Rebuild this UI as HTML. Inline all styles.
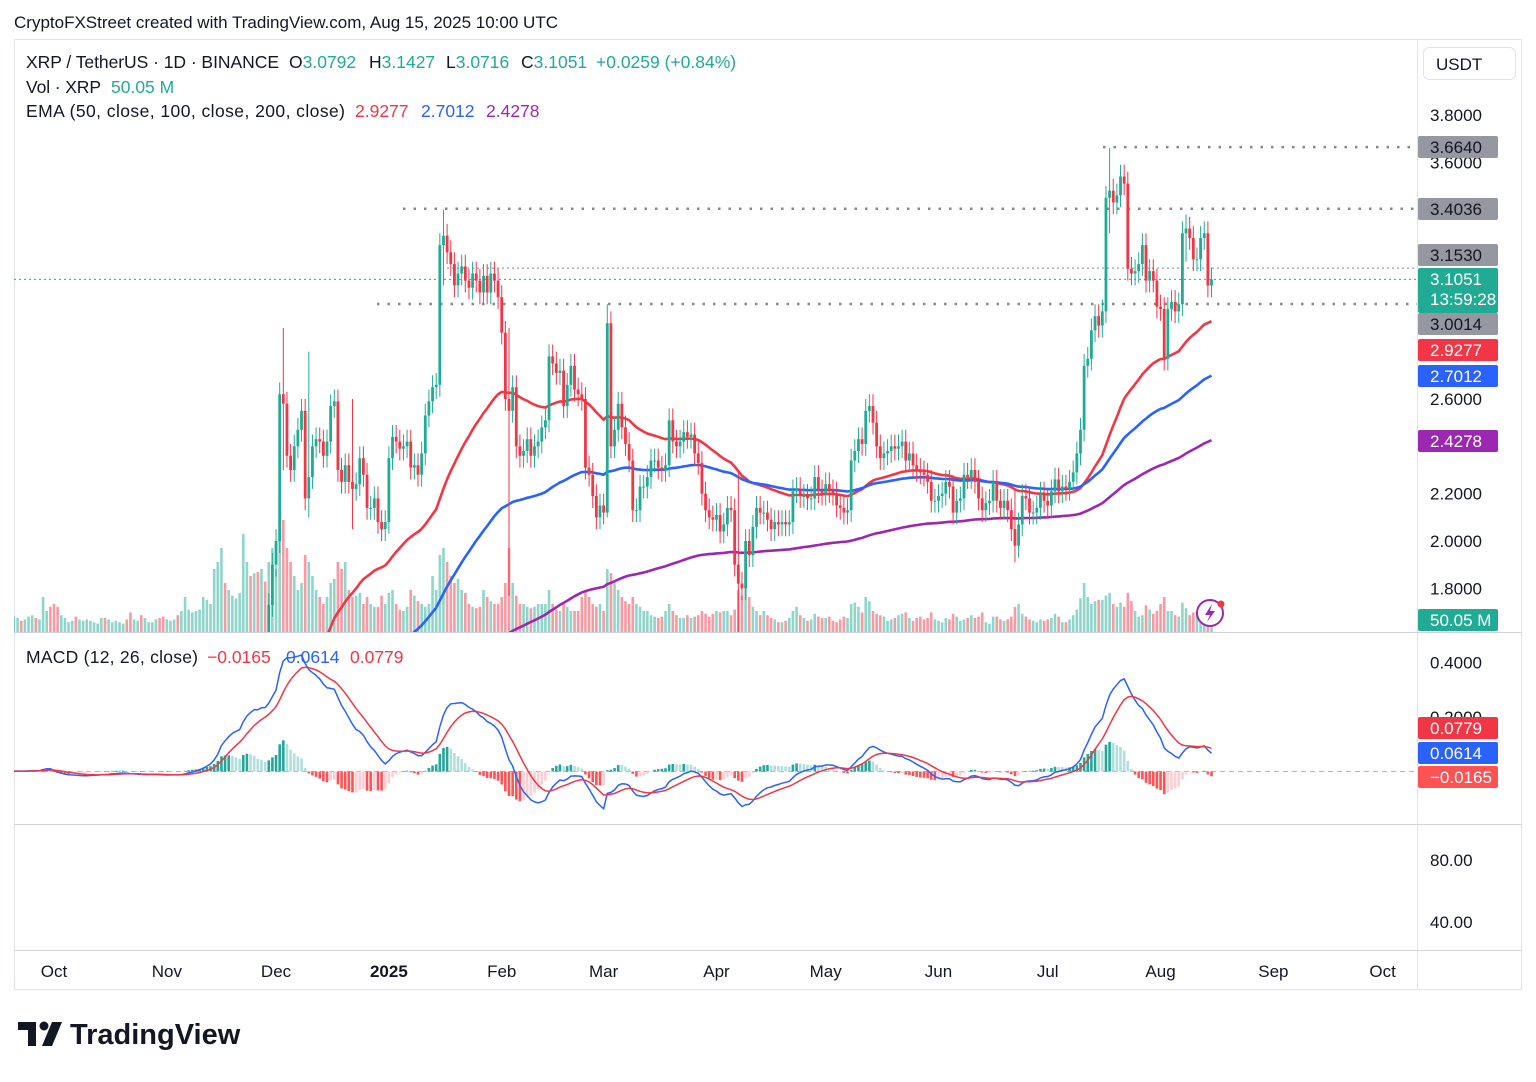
<!DOCTYPE html>
<html><head><meta charset="utf-8">
<style>
html,body{margin:0;padding:0;background:#fff;}
body{width:1536px;height:1077px;overflow:hidden;font-family:"Liberation Sans",sans-serif;}
svg text{font-family:"Liberation Sans",sans-serif;}
</style></head>
<body>
<svg id="chart" width="1536" height="1077" viewBox="0 0 1536 1077" xmlns="http://www.w3.org/2000/svg">
<defs>
<clipPath id="mainClip"><rect x="14" y="40" width="1403" height="592"/></clipPath>
<clipPath id="macdClip"><rect x="14" y="633" width="1403" height="191"/></clipPath>
</defs>
<text x="14" y="28" font-size="17" fill="#131722">CryptoFXStreet created with TradingView.com, Aug 15, 2025 10:00 UTC</text>
<rect x="14.5" y="39.5" width="1507" height="950" fill="none" stroke="#e0e3eb"/>
<line x1="1417.5" y1="40" x2="1417.5" y2="990" stroke="#e0e3eb"/>
<line x1="14" y1="632.5" x2="1522" y2="632.5" stroke="#d1d4dc"/>
<line x1="14" y1="824.5" x2="1522" y2="824.5" stroke="#d1d4dc"/>
<line x1="14" y1="950.5" x2="1522" y2="950.5" stroke="#d1d4dc"/>
<g id="vol" clip-path="url(#mainClip)"></g>
<g id="levels"></g>
<g id="emas" clip-path="url(#mainClip)"></g>
<g id="candles" clip-path="url(#mainClip)"></g>
<g id="macd" clip-path="url(#macdClip)"></g>
<g id="axes"></g>
<g id="legend" font-size="17.5">
<text x="26" y="68" fill="#131722" textLength="253" lengthAdjust="spacing">XRP / TetherUS · 1D · BINANCE</text>
<text x="289" y="68" fill="#131722">O<tspan fill="#22ab94">3.0792</tspan></text>
<text x="369" y="68" fill="#131722">H<tspan fill="#22ab94">3.1427</tspan></text>
<text x="446" y="68" fill="#131722">L<tspan fill="#22ab94">3.0716</tspan></text>
<text x="521" y="68" fill="#131722">C<tspan fill="#22ab94">3.1051</tspan></text>
<text x="596" y="68" fill="#22ab94">+0.0259 (+0.84%)</text>
<text x="26" y="93" fill="#131722" textLength="75" lengthAdjust="spacing">Vol · XRP</text>
<text x="111" y="93" fill="#22ab94">50.05 M</text>
<text x="26" y="117" fill="#131722" textLength="319" lengthAdjust="spacing">EMA (50, close, 100, close, 200, close)</text>
<text x="355" y="117" fill="#f23645">2.9277</text>
<text x="421" y="117" fill="#2962ff">2.7012</text>
<text x="486" y="117" fill="#9c27b0">2.4278</text>
<text x="26" y="663" fill="#131722" textLength="172" lengthAdjust="spacing">MACD (12, 26, close)</text>
<text x="207" y="663" fill="#f23645">−0.0165</text>
<text x="286" y="663" fill="#2962ff">0.0614</text>
<text x="350" y="663" fill="#f23645">0.0779</text>
</g>
<g>
<rect x="1423.5" y="47.5" width="92" height="32" rx="6" fill="#fff" stroke="#e0e3eb"/>
<text x="1436" y="70" font-size="17" fill="#131722">USDT</text>
</g>
<g>
<circle cx="1210" cy="613" r="13" fill="#fff" stroke="#9c27b0" stroke-width="2"/>
<path d="M1212 604 L1205 615 L1210 615 L1207 622 L1215 611 L1210 611 Z" fill="#9c27b0"/>
<circle cx="1221" cy="604" r="3.5" fill="#f23645"/>
</g>
<g>
<path d="M18 1022 h18 v24 h-8 v-16 h-10 z" fill="#131722"/>
<circle cx="44" cy="1026" r="4.5" fill="#131722"/>
<path d="M52 1022 h10 l-10 24 h-10 z" fill="#131722"/>
<text x="70" y="1044" font-size="29" font-weight="bold" fill="#131722">TradingView</text>
</g>
</svg>
<script>
const sep24=[0.58,0.59,0.59,0.59,0.58,0.59,0.59,0.60,0.59,0.59,0.64,0.64,0.61];
const oct24=[0.54,0.52,0.53,0.53,0.53,0.54,0.53,0.53,0.53,0.53,0.54,0.54,0.54,0.55,0.54,0.55,0.55,0.55,0.55,0.55,0.54,0.52,0.52,0.52,0.51,0.52,0.52,0.52,0.52,0.51,0.50];
const nov24=[0.50,0.51,0.51,0.50,0.51,0.54,0.55,0.56,0.57,0.59,0.63,0.66,0.69,0.80,0.93,1.12,1.05,1.08,1.10,1.10,1.12,1.45,1.45,1.44,1.46,1.40,1.53,1.49,1.73,1.90];
const dec24=[2.00,2.62,2.58,2.36,2.30,2.40,2.47,2.55,2.18,2.27,2.40,2.43,2.42,2.36,2.42,2.57,2.59,2.30,2.25,2.32,2.25,2.22,2.24,2.35,2.28,2.14,2.14,2.18,2.08,2.05,2.08];
const jan25=[2.35,2.44,2.42,2.39,2.40,2.42,2.31,2.32,2.28,2.37,2.53,2.59,2.65,2.66,3.25,3.29,3.22,3.17,3.08,3.13,3.16,3.10,3.07,3.13,3.10,3.05,3.12,3.05,3.13,3.10,3.03];
const feb25=[2.88,2.60,2.55,2.65,2.40,2.36,2.38,2.43,2.36,2.40,2.42,2.48,2.51,2.78,2.75,2.71,2.72,2.57,2.66,2.74,2.64,2.62,2.60,2.31,2.28,2.19,2.10,2.15];
const mar25=[2.12,2.92,2.40,2.47,2.58,2.48,2.41,2.34,2.13,2.13,2.23,2.23,2.27,2.34,2.34,2.31,2.30,2.32,2.51,2.42,2.40,2.42,2.46,2.44,2.45,2.37,2.33,2.20,2.13,2.10,2.09];
const apr25=[2.11,2.04,2.07,2.14,2.13,1.90,1.82,1.80,2.00,1.94,2.06,2.14,2.12,2.12,2.09,2.05,2.08,2.07,2.08,2.07,2.08,2.21,2.22,2.19,2.19,2.18,2.18,2.27,2.21,2.20];
const may25=[2.24,2.21,2.20,2.15,2.14,2.12,2.13,2.34,2.38,2.43,2.41,2.55,2.57,2.50,2.40,2.35,2.37,2.38,2.40,2.39,2.40,2.42,2.34,2.37,2.32,2.30,2.29,2.28,2.25,2.17,2.17];
const jun25=[2.19,2.20,2.25,2.23,2.12,2.17,2.18,2.28,2.27,2.30,2.25,2.18,2.13,2.16,2.17,2.25,2.17,2.14,2.17,2.13,2.05,1.98,2.07,2.19,2.18,2.12,2.12,2.14,2.20,2.17];
const jul25=[2.15,2.21,2.26,2.21,2.23,2.22,2.25,2.29,2.37,2.47,2.74,2.77,2.89,2.95,2.91,2.97,3.45,3.48,3.43,3.46,3.54,3.51,3.15,3.13,3.14,3.17,3.25,3.10,3.14,3.10,2.99];
const aug25=[2.98,2.77,2.98,3.01,2.97,3.00,3.30,3.32,3.28,3.19,3.19,3.28,3.30,3.0792,3.1051];
const closes=[].concat(sep24,oct24,nov24,dec24,jan25,feb25,mar25,apr25,may25,jun25,jul25,aug25);

const volSep=[90,100,110,100,80,90,110,120,100,90,250,150,180];
const volOct=[200,180,120,100,70,80,110,90,80,90,80,70,60,100,100,90,70,80,70,60,90,140,90,80,120,100,70,70,90,100,110];
const volNov=[90,80,90,120,150,250,160,140,150,160,250,230,200,450,500,600,350,300,260,240,280,700,500,400,420,430,450,360,500,600];
const volDec=[450,1000,800,600,500,400,300,350,550,500,400,300,250,200,250,350,380,500,450,500,300,250,260,280,200,250,200,180,180,260,200];
const volJan=[280,300,200,160,150,180,300,260,220,200,180,200,400,300,550,600,500,400,350,380,300,280,200,180,170,180,300,250,220,200,200];
const volFeb=[250,350,600,350,260,200,200,180,170,180,200,200,200,300,200,160,150,200,180,150,150,150,250,300,250,200,180,200];
const volMar=[150,450,420,350,300,250,220,200,250,200,180,150,150,120,110,100,110,150,200,150,120,100,100,120,100,110,120,150,130,110,130];
const volApr=[150,140,150,150,120,160,300,260,320,250,180,150,120,150,120,100,90,70,70,80,100,150,180,120,100,80,90,130,110,100];
const volMay=[100,110,80,70,90,110,100,200,210,180,140,250,220,150,130,120,110,80,90,100,120,130,140,100,80,100,110,90,100,140,90];
const volJun=[80,70,100,90,130,110,80,90,100,120,100,110,140,70,60,110,110,90,80,90,110,180,200,130,110,90,80,70,90,80];
const volJul=[90,100,130,110,70,70,90,120,160,240,350,250,200,220,230,230,260,280,200,180,210,180,280,220,150,110,120,190,160,130,150];
const volAug=[200,250,150,150,120,110,210,170,120,140,150,120,130,170,50];
const volumes=[].concat(volSep,volOct,volNov,volDec,volJan,volFeb,volMar,volApr,volMay,volJun,volJul,volAug);

// notable wick extremes: day index -> [high, low]
const wickIdx=[76,120,138,165,201,303,277,324,83,95];
const wickHi=[2.90,3.40,2.90,3.00,2.30,3.66,2.22,3.38,2.80,2.60];
const wickLo=[2.30,3.08,1.77,2.10,1.61,3.30,1.91,3.18,2.10,2.05];

const priceTicks=[3.8,3.6,2.6,2.2,2.0,1.8];
const macdTicks=[0.4,0.2];
const rsiTicks=[80,40];
const months=["Oct","Nov","Dec","2025","Feb","Mar","Apr","May","Jun","Jul","Aug","Sep","Oct"];
const monthDayIdx=[13,44,74,105,136,164,195,225,256,286,317,348,378];
const levelPrices=[3.664,3.4036,3.153,3.0014];
const levelStart=[1103,403,447,377];

const NS="http://www.w3.org/2000/svg";
function el(tag,attrs,parent){const e=document.createElementNS(NS,tag);for(const k in attrs)e.setAttribute(k,attrs[k]);parent.appendChild(e);return e;}
const X=i=>54+(i-13)*3.64;
const Y=p=>541-(p-2)*236.7;
const YM=v=>771.5-v*272.5;
const YV=v=>632-v*0.14;
const up="#22ab94",dn="#f23645";
function ema(arr,n){const k=2/(n+1);const out=[];let e=arr[0];arr.forEach((v,i)=>{e=i===0?v:v*k+e*(1-k);out.push(e);});return out;}

const gV=document.getElementById('vol');
const gC=document.getElementById('candles');
closes.forEach((c,i)=>{
  const o=i===0?c:closes[i-1];
  let h=Math.max(o,c)+0.05,l=Math.min(o,c)-0.05;
  const w=wickIdx.indexOf(i);
  if(w>=0){h=wickHi[w];l=wickLo[w];}
  const col=c>=o?up:dn;
  const vb=el('rect',{x:X(i)-1.3,y:YV(volumes[i]),width:2.6,height:632-YV(volumes[i]),fill:col,opacity:0.5},gV);
  
  
  const wk=el('line',{x1:X(i),x2:X(i),y1:Y(h),y2:Y(l),stroke:col,'stroke-width':1},gC);
  
  
  const bt=Math.min(Y(o),Y(c)),bh=Math.max(1,Math.abs(Y(o)-Y(c)));
  const bd=el('rect',{x:X(i)-1.4,y:bt,width:2.8,height:bh,fill:col},gC);
  
  
});

const gE=document.getElementById('emas');
[[50,"#f23645"],[100,"#2962ff"],[200,"#9c27b0"]].forEach(([n,col])=>{
  const e=ema(closes,n);
  const p=el('path',{d:e.map((v,i)=>(i?'L':'M')+X(i).toFixed(1)+' '+Y(v).toFixed(1)).join(''),fill:'none',stroke:col,'stroke-width':2.6},gE);
  
  
});

const gM=document.getElementById('macd');
const e12=ema(closes,12),e26=ema(closes,26);
const macd=closes.map((_,i)=>e12[i]-e26[i]);
const sig=ema(macd,9);
const zl=el('line',{x1:14,x2:1417,y1:YM(0),y2:YM(0),stroke:'#b2b5be','stroke-dasharray':'5 4'},gM);


macd.forEach((m,i)=>{
  const hv=m-sig[i],pv=i?macd[i-1]-sig[i-1]:hv;
  const col=hv>=0?(hv>=pv?"#26a69a":"#b2dfdb"):(hv<pv?"#ff5252":"#ffcdd2");
  const r=el('rect',{x:X(i)-1.3,y:Math.min(YM(hv),YM(0)),width:2.6,height:Math.abs(YM(hv)-YM(0)),fill:col},gM);
  
  
});
const ml=el('path',{d:macd.map((v,i)=>(i?'L':'M')+X(i).toFixed(1)+' '+YM(v).toFixed(1)).join(''),fill:'none',stroke:'#2962ff','stroke-width':1.5},gM);


const sl=el('path',{d:sig.map((v,i)=>(i?'L':'M')+X(i).toFixed(1)+' '+YM(v).toFixed(1)).join(''),fill:'none',stroke:'#f23645','stroke-width':1.5},gM);



const gL=document.getElementById('levels');
levelPrices.forEach((p,k)=>{
  const ln=el('line',{x1:levelStart[k],x2:1417,y1:Y(p),y2:Y(p),stroke:'#888',"stroke-width":k===2?1:2.5,'stroke-dasharray':k===2?'2 3':'2.5 8'},gL);
  
  
});
const last=closes[closes.length-1];
const cl=el('line',{x1:14,x2:1417,y1:Y(last),y2:Y(last),stroke:up,'stroke-dasharray':'2 3'},gL);



const gA=document.getElementById('axes');
priceTicks.forEach(t=>{const tx=el('text',{x:1430,y:Y(t)+6,'font-size':17,fill:'#131722'},gA);tx.textContent=t.toFixed(4);
});
macdTicks.forEach(t=>{const tx=el('text',{x:1430,y:YM(t)+6,'font-size':17,fill:'#131722'},gA);tx.textContent=t.toFixed(4);
});
const rsiY=v=>860+(80-v)*1.55;
rsiTicks.forEach(t=>{const tx=el('text',{x:1430,y:rsiY(t)+6,'font-size':17,fill:'#131722'},gA);tx.textContent=t.toFixed(2);
});
months.forEach((m,k)=>{const tx=el('text',{x:X(monthDayIdx[k]),y:977,'font-size':17,fill:'#131722','text-anchor':'middle','font-weight':m==="2025"?'bold':'normal'},gA);tx.textContent=m;
});

function badge(y,h,bg,fg,lines,name){
  const g=el('g',{},gA);
  
  
  el('rect',{x:1418,y:y,width:80,height:h,fill:bg,rx:2},g);
  lines.forEach((t,k)=>{const tx=el('text',{x:1430,y:y+17+k*20,'font-size':17,fill:fg},g);tx.textContent=t;});
}
badge(136,22,'#9598a1','#131722',['3.6640'],'level-label');
badge(198,22,'#9598a1','#131722',['3.4036'],'level-label');
badge(244,22,'#9598a1','#131722',['3.1530'],'level-label');
badge(268,45,up,'#fff',['3.1051','13:59:28'],'current-price-label');
badge(313,22,'#9598a1','#131722',['3.0014'],'level-label');
badge(339,22,'#f23645','#fff',['2.9277'],'ema50-label');
badge(365,22,'#2962ff','#fff',['2.7012'],'ema100-label');
badge(430,22,'#9c27b0','#fff',['2.4278'],'ema200-label');
badge(609,22,up,'#fff',['50.05 M'],'volume-label');
badge(717,22,'#f23645','#fff',['0.0779'],'macd-signal-label');
badge(742,22,'#2962ff','#fff',['0.0614'],'macd-value-label');
badge(766,22,'#ff5252','#fff',['−0.0165'],'macd-hist-label');
</script>
</body></html>
